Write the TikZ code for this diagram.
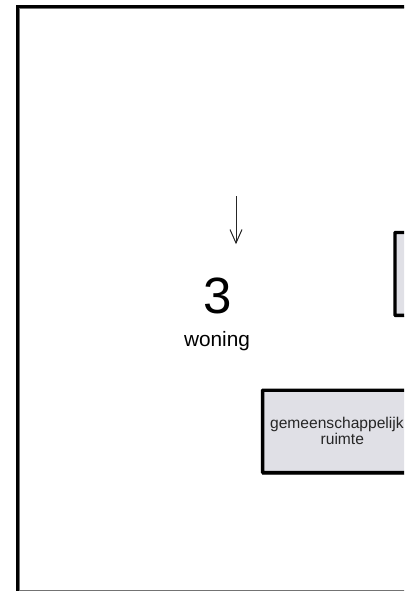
\documentclass[tikz,border=0pt]{standalone}
\usepackage{fontspec}
\setmainfont{Liberation Sans}
\usetikzlibrary{arrows.meta}
\definecolor{boxgrey}{HTML}{E0E0E6}
\tikzset{
  px/.style={x=1bp,y=-1bp},
  room/.style={draw=black,line width=3.4bp,fill=boxgrey,rounded corners=0.5bp,inner sep=0pt,outer sep=0pt,anchor=north west},
  roomtext/.style={font=\fontsize{15.6bp}{16bp}\selectfont,inner sep=0pt,anchor=base,text=black!85},
  shadowline/.style={draw=black!55,line width=1.2bp},
  outer/.style={draw=black,line width=3bp,inner sep=0pt,outer sep=0pt,anchor=north west},
  label/.style={inner sep=0pt,anchor=base,text=black}
}
\begin{document}
\begin{tikzpicture}[px]
\useasboundingbox (0,0) rectangle (404,591);
\clip (0,0) rectangle (404,591);
\fill[white] (0,0) rectangle (404,591);
% outer frame
\draw[shadowline] (19.2,8) -- (19.2,640);
\draw[shadowline] (19.2,8) -- (440,8);
\draw[shadowline] (17,590.6) -- (440,590.6);
\node[outer,minimum width=500bp,minimum height=700bp] (frame) at (17.2,6.2) {};
% boxes
\draw[shadowline] (262,474.2) -- (440,474.2);
\draw[shadowline] (394,316.8) -- (440,316.8);
\node[room,minimum width=60bp,minimum height=82.8bp] (boxa) at (395,232.5) {};
\node[room,minimum width=160bp,minimum height=82.4bp] (boxb) at (262.6,390.2) {};
\node[roomtext] (gem) at (336.9,428.6) {gemeenschappelijk};
\node[roomtext] (rui) at (342.3,444.8) {ruimte};
% labels
\node[label,font=\fontsize{51bp}{52bp}\selectfont] (num) at (217.8,313) {3};
\node[label,font=\fontsize{20.8bp}{22bp}\selectfont] (won) at (217,346.5) {woning};
% arrow
\coordinate (top) at (236,196);
\coordinate (tip) at (236,243);
\coordinate (hl) at (230,229.5);
\coordinate (hr) at (242,229.5);
\draw[line width=1bp,black!85] (top) -- (tip);
\draw[line width=1bp,black!85] (hl) -- (tip) -- (hr);
\end{tikzpicture}
\end{document}
